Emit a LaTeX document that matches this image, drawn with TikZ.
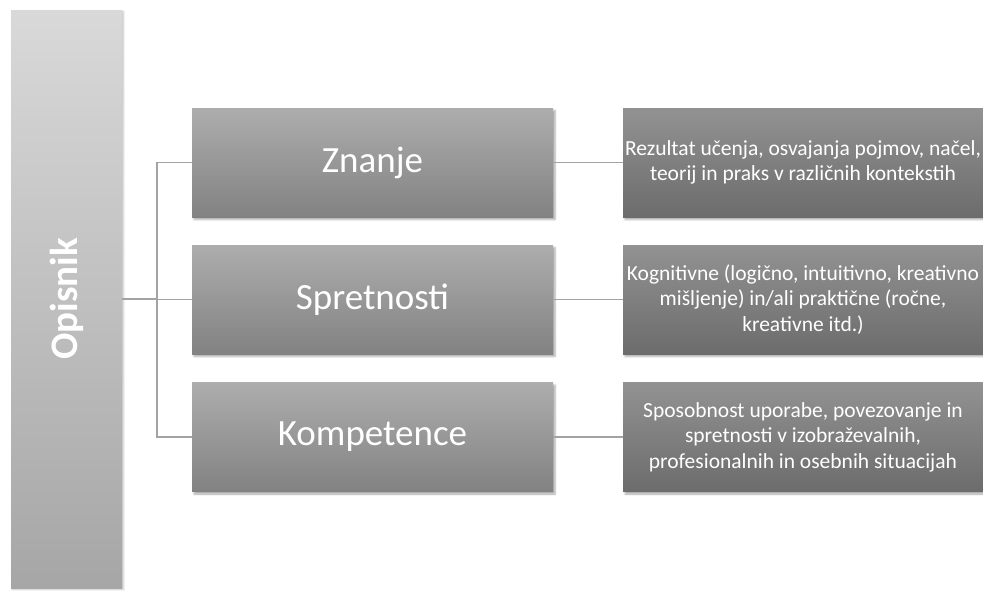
\documentclass[tikz,border=0pt]{standalone}
\usepackage{fontspec}
\setmainfont{Carlito}
\usetikzlibrary{shadings,shadows.blur}
\definecolor{optop}{HTML}{D9D9D9}
\definecolor{opbot}{HTML}{A6A6A6}
\definecolor{midtop}{HTML}{ADADAD}
\definecolor{midbot}{HTML}{828282}
\definecolor{rtop}{HTML}{929292}
\definecolor{rbot}{HTML}{6C6C6C}
\definecolor{conncol}{HTML}{A3A3A3}
\tikzset{
  opbox/.style={minimum width=111pt, minimum height=578pt, inner sep=0pt,
    top color=optop, bottom color=opbot, text=white,
    blur shadow={shadow xshift=1.5pt, shadow yshift=-1.5pt, shadow blur steps=4, shadow opacity=25}},
  midbox/.style={minimum width=361pt, minimum height=109pt, inner sep=0pt,
    top color=midtop, bottom color=midbot, text=white,
    font=\fontsize{37}{42}\selectfont,
    blur shadow={shadow xshift=2pt, shadow yshift=-2.5pt, shadow blur steps=4, shadow opacity=35}},
  rbox/.style={minimum width=360pt, minimum height=109pt, inner sep=0pt,
    top color=rtop, bottom color=rbot, text=white, align=center,
    font=\fontsize{21.5}{25.5}\selectfont,
    blur shadow={shadow xshift=2pt, shadow yshift=-2.5pt, shadow blur steps=4, shadow opacity=35}},
  conn/.style={draw=conncol, line width=1.5pt}
}
\begin{document}
\begin{tikzpicture}[x=1pt,y=-1pt]
\useasboundingbox (0,0) rectangle (983,590);
\node[opbox] (op) at (66.5,299) {};
\node[rotate=90, text=white, font=\fontsize{39}{44}\selectfont\bfseries] (optext) at (66.5,299) {Opisnik};
\node[midbox] (zn) at (372.5,162.5) {Znanje};
\node[midbox] (sp) at (372.5,299.5) {Spretnosti};
\node[midbox] (ko) at (372.5,437) {Kompetence};
\node[rbox] (rz) at (803,162.5) {Rezultat učenja, osvajanja pojmov, načel,\\ teorij in praks v različnih kontekstih};
\node[rbox] (rs) at (803,299.5) {Kognitivne (logično, intuitivno, kreativno\\ mišljenje) in/ali praktične (ročne,\\ kreativne itd.)};
\node[rbox] (rk) at (803,437) {Sposobnost uporabe, povezovanje in\\ spretnosti v izobraževalnih,\\ profesionalnih in osebnih situacijah};
\coordinate (bx) at (157,0);
\draw[conn] (op.east) -- (op.east -| bx);
\draw[conn] (zn.west) -- (zn.west -| bx) -- (ko.west -| bx) -- (ko.west);
\draw[conn] (sp.west) -- (sp.west -| bx);
\draw[conn] (zn.east) -- (rz.west);
\draw[conn] (sp.east) -- (rs.west);
\draw[conn] (ko.east) -- (rk.west);
\end{tikzpicture}
\end{document}
